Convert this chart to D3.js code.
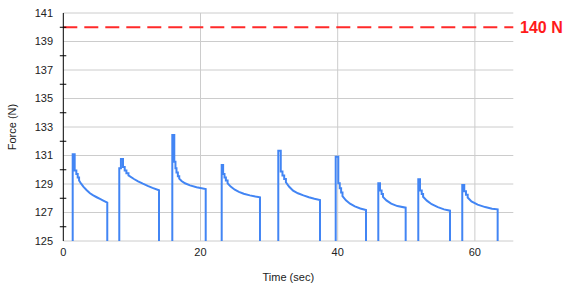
<!DOCTYPE html>
<html>
<head>
<meta charset="utf-8">
<script src="https://cdn.jsdelivr.net/npm/d3@7/dist/d3.min.js"></script>
<style>
  html, body { margin: 0; padding: 0; background: #fff; }
  svg { display: block; font-family: "Liberation Sans", Arial, sans-serif; }
</style>
</head>
<body>
<svg id="chart" width="582" height="287"></svg>
<script>
// ---- data (time in sec, force in N); each pulse: peak hold, stepped drop, then decay ----
const pulse1 = [[1.37,131.08],[1.66,131.08],[1.66,129.95],[1.9,129.95],[1.9,129.7],[2.1,129.7],[2.1,129.45],[2.3,129.45],[2.3,129.25],[2.6,129.02],[2.92,128.81],[3.38,128.58],[3.89,128.35],[4.37,128.2],[4.87,128.07],[5.35,127.95],[5.83,127.83],[6.41,127.69]];
const pulse2 = [[8.16,130.1],[8.4,130.1],[8.4,130.75],[8.7,130.75],[8.7,130.2],[8.95,130.2],[8.95,129.95],[9.2,129.95],[9.2,129.75],[9.5,129.75],[9.5,129.6],[10.3,129.35],[10.9,129.18],[11.6,129.02],[12.3,128.87],[13.0,128.73],[13.95,128.56]];
const pulse3 = [[15.89,132.44],[16.18,132.44],[16.18,130.56],[16.35,130.56],[16.35,130.1],[16.5,130.1],[16.5,129.8],[16.7,129.8],[16.7,129.55],[16.9,129.55],[16.9,129.38],[17.24,129.21],[17.74,129.05],[18.47,128.9],[19.43,128.77],[20.76,128.65]];
const pulse4 = [[23.09,130.33],[23.3,130.33],[23.3,129.7],[23.5,129.7],[23.5,129.45],[23.7,129.45],[23.7,129.25],[23.95,129.25],[23.95,129.05],[24.4,128.82],[25.0,128.6],[25.6,128.45],[26.3,128.32],[27.2,128.2],[28.0,128.12],[28.67,128.07]];
const pulse5 = [[31.34,131.34],[31.7,131.34],[31.7,129.87],[31.95,129.87],[31.95,129.6],[32.2,129.6],[32.2,129.35],[32.45,129.35],[32.45,129.12],[32.9,128.82],[33.5,128.53],[34.2,128.35],[35.0,128.2],[35.8,128.07],[36.6,127.96],[37.42,127.88]];
const pulse6 = [[39.71,130.92],[40.09,130.92],[40.09,129.05],[40.3,129.05],[40.3,128.7],[40.5,128.7],[40.5,128.4],[40.7,128.4],[40.7,128.15],[41.2,127.85],[41.8,127.62],[42.5,127.43],[43.3,127.28],[44.13,127.18]];
const pulse7 = [[45.92,129.05],[46.17,129.05],[46.17,128.55],[46.4,128.55],[46.4,128.3],[46.6,128.3],[46.6,128.1],[47.1,127.85],[47.8,127.62],[48.7,127.45],[49.91,127.34]];
const pulse8 = [[51.75,129.33],[52.0,129.33],[52.0,128.55],[52.25,128.55],[52.25,128.3],[52.45,128.3],[52.45,128.1],[53.0,127.83],[53.7,127.58],[54.6,127.38],[55.5,127.22],[56.37,127.13]];
const pulse9 = [[58.16,128.93],[58.45,128.93],[58.45,128.5],[58.7,128.5],[58.7,128.25],[58.95,128.25],[58.95,128.05],[59.5,127.78],[60.4,127.55],[61.5,127.38],[62.5,127.27],[63.32,127.22]];

const restForce = 0;
const thresholdForce = 140;
const thresholdLabel = "140 N";
const xDomain = [0, 65.6];
const yDomain = [125, 141];
const xTickValues = [0, 20, 40, 60];
const yLabelValues = [125, 127, 129, 131, 133, 135, 137, 139, 141];
const yTickMarkValues = [126, 128, 130, 132, 134, 136, 138, 140];
const xTitle = "Time (sec)";
const yTitle = "Force (N)";

// ---- build series (force returns to rest between pulses) ----
const pulses = [pulse1, pulse2, pulse3, pulse4, pulse5, pulse6, pulse7, pulse8, pulse9];
const series = [[xDomain[0], restForce]];
pulses.forEach(pts => {
  series.push([pts[0][0], restForce]);
  pts.forEach(p => series.push(p));
  series.push([pts[pts.length - 1][0], restForce]);
});
series.push([xDomain[1], restForce]);

// ---- layout ----
const svg = d3.select("#chart");
const pL = 63.3, pR = 513.3, pT = 13, pB = 241;
const x = d3.scaleLinear().domain(xDomain).range([pL, pR]);
const y = d3.scaleLinear().domain(yDomain).range([pB, pT]);

const grid = svg.append("g");
grid.selectAll("line.h").data(yLabelValues).join("line")
  .attr("x1", pL).attr("x2", pR)
  .attr("y1", d => y(d)).attr("y2", d => y(d))
  .attr("stroke", "#cccccc").attr("stroke-width", 1);
grid.selectAll("line.v").data(xTickValues.filter(d => d > 0)).join("line")
  .attr("x1", d => x(d)).attr("x2", d => x(d))
  .attr("y1", pT).attr("y2", pB)
  .attr("stroke", "#cccccc").attr("stroke-width", 1);

svg.append("clipPath").attr("id", "plot-clip")
  .append("rect").attr("x", pL).attr("y", pT)
  .attr("width", pR - pL).attr("height", pB - pT);

svg.append("line")
  .attr("x1", pL).attr("x2", pR)
  .attr("y1", y(thresholdForce)).attr("y2", y(thresholdForce))
  .attr("stroke", "#ff2a2a").attr("stroke-width", 2)
  .attr("stroke-dasharray", "14,7");

svg.append("text")
  .attr("x", 520).attr("y", y(thresholdForce))
  .attr("dy", "0.36em")
  .attr("fill", "#ff1a1a")
  .attr("font-size", 16).attr("font-weight", "bold")
  .text(thresholdLabel);

const line = d3.line()
  .x(d => x(d[0])).y(d => y(d[1]))
  .curve(d3.curveLinear);
svg.append("path")
  .datum(series)
  .attr("clip-path", "url(#plot-clip)")
  .attr("fill", "none")
  .attr("stroke", "#4285f4")
  .attr("stroke-width", 2)
  .attr("stroke-linejoin", "miter")
  .attr("d", line);

svg.append("line")
  .attr("x1", pL).attr("x2", pL).attr("y1", pT).attr("y2", pB)
  .attr("stroke", "#000").attr("stroke-width", 1);
svg.selectAll("line.ytick").data(yTickMarkValues).join("line")
  .attr("x1", pL - 3.5).attr("x2", pL + 3).attr("y1", d => y(d)).attr("y2", d => y(d))
  .attr("stroke", "#000").attr("stroke-width", 1);

svg.selectAll("text.ylab").data(yLabelValues).join("text")
  .attr("x", 53).attr("y", d => y(d)).attr("dy", "0.36em")
  .attr("text-anchor", "end").attr("font-size", 11).attr("fill", "#222")
  .text(d => d);

svg.selectAll("text.xlab").data(xTickValues).join("text")
  .attr("x", d => x(d)).attr("y", 252).attr("dy", "0.36em")
  .attr("text-anchor", "middle").attr("font-size", 11).attr("fill", "#222")
  .text(d => d);

svg.append("text")
  .attr("x", (pL + pR) / 2).attr("y", 277.5).attr("dy", "0.36em")
  .attr("text-anchor", "middle").attr("font-size", 11).attr("fill", "#222")
  .text(xTitle);
svg.append("text")
  .attr("transform", `translate(12.5,${(pT + pB) / 2}) rotate(-90)`)
  .attr("dy", "0.36em")
  .attr("text-anchor", "middle").attr("font-size", 11).attr("fill", "#222")
  .text(yTitle);
</script>
</body>
</html>
